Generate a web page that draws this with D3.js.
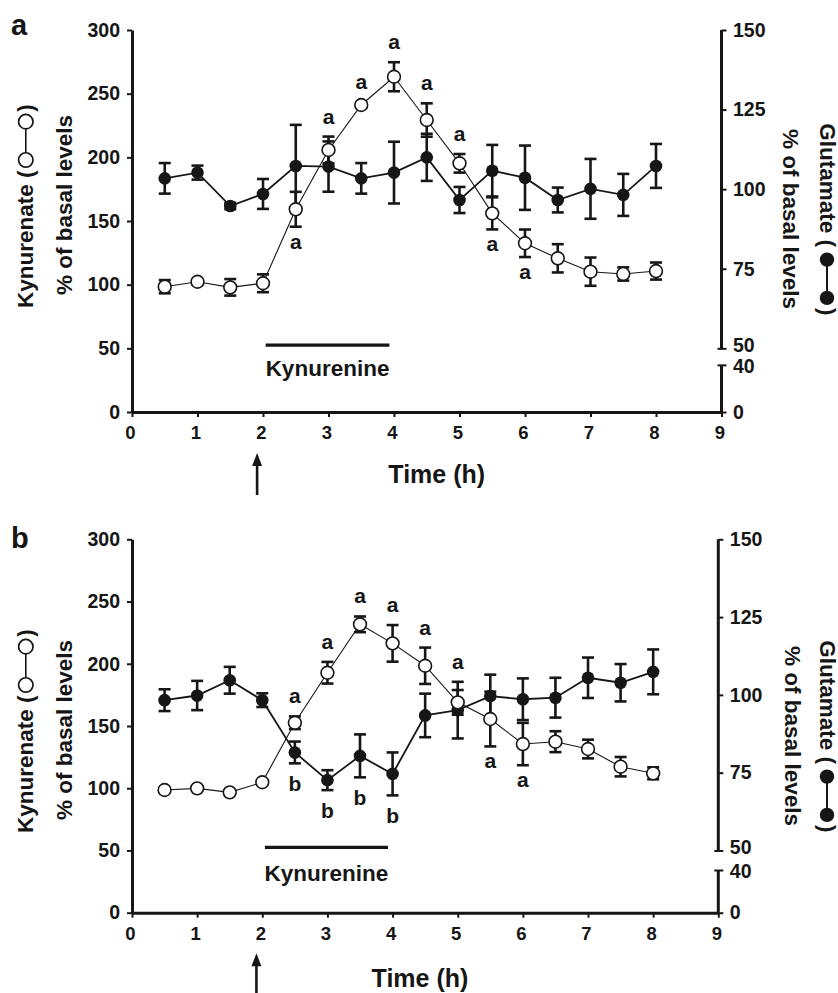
<!DOCTYPE html>
<html><head><meta charset="utf-8">
<script src="https://cdn.jsdelivr.net/npm/d3@7/dist/d3.min.js"></script>
<style>
body{margin:0;background:#fff}
svg{display:block}
text{font-family:"Liberation Sans",Arial,Helvetica,sans-serif;font-weight:bold;fill:#161616}
</style>
</head><body>
<svg id="c" width="838" height="993"></svg>
<script>
// ---------- data ----------
const times = [0.5,1,1.5,2,2.5,3,3.5,4,4.5,5,5.5,6,6.5,7,7.5,8];

// panel a
const kynA    = [98.4,102.3,97.9,101.1,159.2,205.8,241.1,263.3,229.3,195.3,156,132.5,120.7,110.2,108.4,110.7];
const kynAErr = [5.2,2,6.5,7,13.7,10.5,2,11.4,13.1,7.3,12.6,10.8,11.1,11.1,5.2,6.7];
const gluA    = [103.4,105.2,94.7,98.5,107.3,107.1,103.4,105.2,110.0,96.6,105.8,103.6,96.6,100.1,98.2,107.3];
const gluAErr = [4.8,2.2,1,4.7,12.9,7.9,4.8,9.7,7.4,4.1,8.1,10.1,3.9,9.4,6.6,6.9];
const sigA = [
  {t:2.5,txt:"a",side:"below"},{t:3,txt:"a",side:"above"},{t:3.5,txt:"a",side:"above"},
  {t:4,txt:"a",side:"above"},{t:4.5,txt:"a",side:"above"},{t:5,txt:"a",side:"above"},
  {t:5.5,txt:"a",side:"below"},{t:6,txt:"a",side:"below"}
];

// panel b
const kynB    = [98.6,99.9,96.7,104.8,152.6,192.8,231.7,216.4,198.4,169,155.6,135.5,137.4,131.5,117.3,112];
const kynBErr = [1.5,1.5,1.5,1.5,5.1,8.7,6.3,14.7,14.6,9.9,22,17,8.4,7.5,7.8,4.8];
const gluB    = [98.3,99.8,104.7,98.3,81.5,72.6,80.4,74.6,93.4,95.1,99.6,98.6,99.1,105.5,103.9,107.4];
const gluBErr = [3.5,4.7,4.3,2.2,3.5,3.2,6.9,6.9,7,9.1,6.9,6.7,6.4,6.5,6,7.2];
const sigB = [
  {t:2.5,txt:"a",side:"above"},{t:3,txt:"a",side:"above"},{t:3.5,txt:"a",side:"above"},
  {t:4,txt:"a",side:"above"},{t:4.5,txt:"a",side:"above"},{t:5,txt:"a",side:"above"},
  {t:5.5,txt:"a",side:"below"},{t:6,txt:"a",side:"below"},
  {t:2.5,txt:"b",side:"below"},{t:3,txt:"b",side:"below"},{t:3.5,txt:"b",side:"below"},{t:4,txt:"b",side:"below"}
];

const xTicks = [0,1,2,3,4,5,6,7,8,9];
const leftTicks = [0,50,100,150,200,250,300];
const rightTicks = [0,40,50,75,100,125,150];
const kynurenineSpan = [2.04, 3.93];   // hours
const kynurenineLevel = 52.5;          // left-axis units
const injectionTime = 1.91;            // hours
const leftTitle = "Kynurenate (";
const rightTitle = "Glutamate (";
const basalTitle = "% of basal levels";

// ---------- layout ----------
const panels = [
  {key:"a", kyn:kynA, kynErr:kynAErr, glu:gluA, gluErr:gluAErr, sig:sigA,
   x0:132, x1:721.5, yTop:30, yBot:412, r40:37, dL:0, dR:0, baseR:782.7, labelBase:35,
   timeX:436.7, timeY:483.3, kynLabelGap:30.5, arrowTip:453, arrowEnd:495},
  {key:"b", kyn:kynB, kynErr:kynBErr, glu:gluB, gluErr:gluBErr, sig:sigB,
   x0:132, x1:718.3, yTop:539.3, yBot:912.7, r40:34.3, dL:525, dR:517, baseR:784.5, labelBase:548,
   timeX:420, timeY:986.7, kynLabelGap:33.3, arrowTip:953.3, arrowEnd:993}
];

const svg = d3.select("#c");
const INK = "#161616";

panels.forEach(p => {
  const g = svg.append("g");
  const x = d3.scaleLinear().domain([0,9]).range([p.x0, p.x1]);
  const yL = d3.scaleLinear().domain([0,300]).range([p.yBot, p.yTop]);
  const yR = d3.scaleLinear().domain([0,40,50,150]).range([yL(0), yL(p.r40), yL(50), yL(300)]);

  // ----- axes -----
  const ax = g.append("g").attr("transform",`translate(0,${yL(0)})`)
    .call(d3.axisBottom(x).tickValues(xTicks).tickSize(5).tickSizeOuter(0).tickPadding(9).tickFormat(d3.format("d")));
  const al = g.append("g").attr("transform",`translate(${p.x0},0)`)
    .call(d3.axisLeft(yL).tickValues(leftTicks).tickSize(5).tickSizeOuter(0).tickPadding(7));
  const ar = g.append("g").attr("transform",`translate(${p.x1},0)`)
    .call(d3.axisRight(yR).tickValues(rightTicks).tickSize(5).tickSizeOuter(0).tickPadding(6.5));
  ar.select(".domain").remove();
  [ax,al,ar].forEach(a=>{
    a.select(".domain").attr("stroke",INK).attr("stroke-width",3);
    a.selectAll(".tick line").attr("stroke",INK).attr("stroke-width",2);
    a.selectAll(".tick text").attr("fill",INK).style("font-size","19.5px")
      .style("font-family",'"Liberation Sans",Arial,sans-serif').style("font-weight","bold");
  });
  ax.selectAll(".tick text").style("font-size","18.5px").attr("dx",-2);
  ar.selectAll(".tick line").filter(d=>d===50||d===40).attr("x1",-4);
  ar.selectAll(".tick text").filter(d=>d===50).attr("dy","0.18em");
  ar.selectAll(".tick text").filter(d=>d===40).attr("dy","0.4em");
  // right axis broken segments
  g.append("line").attr("x1",p.x1).attr("x2",p.x1).attr("y1",yR(50)).attr("y2",yR(150))
    .attr("stroke",INK).attr("stroke-width",3);
  g.append("line").attr("x1",p.x1).attr("x2",p.x1).attr("y1",yR(0)).attr("y2",yR(40))
    .attr("stroke",INK).attr("stroke-width",3);

  // ----- series -----
  const idx = d3.range(times.length);
  const kynLine = d3.line().x(i=>x(times[i])).y(i=>yL(p.kyn[i]));
  const gluLine = d3.line().x(i=>x(times[i])).y(i=>yR(p.glu[i]));
  g.append("path").attr("d",kynLine(idx)).attr("fill","none").attr("stroke",INK).attr("stroke-width",1.1);
  g.append("path").attr("d",gluLine(idx)).attr("fill","none").attr("stroke",INK).attr("stroke-width",1.8);

  function errBars(vals, errs, scale){
    const eg = g.append("g").attr("stroke",INK).attr("stroke-width",2.6);
    idx.forEach(i=>{
      const cx = x(times[i]), y1 = scale(vals[i]+errs[i]), y2 = scale(vals[i]-errs[i]);
      eg.append("line").attr("x1",cx).attr("x2",cx).attr("y1",y1).attr("y2",y2);
      eg.append("line").attr("x1",cx-6).attr("x2",cx+6).attr("y1",y1).attr("y2",y1);
      eg.append("line").attr("x1",cx-6).attr("x2",cx+6).attr("y1",y2).attr("y2",y2);
    });
  }
  errBars(p.glu, p.gluErr, yR);
  errBars(p.kyn, p.kynErr, yL);

  g.append("g").selectAll("circle").data(idx).join("circle")
    .attr("cx",i=>x(times[i])).attr("cy",i=>yR(p.glu[i])).attr("r",6.3).attr("fill",INK);
  g.append("g").selectAll("circle").data(idx).join("circle")
    .attr("cx",i=>x(times[i])).attr("cy",i=>yL(p.kyn[i])).attr("r",6.4)
    .attr("fill","#fff").attr("stroke",INK).attr("stroke-width",1.6);

  // ----- significance letters -----
  p.sig.forEach(s=>{
    const i = times.indexOf(s.t);
    const top = Math.min(yL(p.kyn[i]+p.kynErr[i]), yR(p.glu[i]+p.gluErr[i]));
    const bot = Math.max(yL(p.kyn[i]-p.kynErr[i]), yR(p.glu[i]-p.gluErr[i]));
    const base = s.side==="above" ? top-13 : bot + (s.txt==="b" ? 28 : 22);
    g.append("text").attr("x",x(s.t)).attr("y",base).attr("text-anchor","middle")
      .style("font-size","21px").text(s.txt);
  });

  // ----- kynurenine bar -----
  const ky = yL(kynurenineLevel);
  g.append("line").attr("x1",x(kynurenineSpan[0])).attr("x2",x(kynurenineSpan[1]))
    .attr("y1",ky).attr("y2",ky).attr("stroke",INK).attr("stroke-width",3.2);
  g.append("text").attr("x",(x(kynurenineSpan[0])+x(kynurenineSpan[1]))/2).attr("y",ky+p.kynLabelGap)
    .attr("text-anchor","middle").style("font-size","22.5px").text("Kynurenine");

  // ----- injection arrow -----
  const axx = x(injectionTime);
  g.append("line").attr("x1",axx).attr("x2",axx).attr("y1",p.arrowTip+10).attr("y2",p.arrowEnd)
    .attr("stroke",INK).attr("stroke-width",2.6);
  g.append("path").attr("d",`M${axx},${p.arrowTip} L${axx-5},${p.arrowTip+13} L${axx+5},${p.arrowTip+13} Z`)
    .attr("fill",INK);

  // ----- x title -----
  g.append("text").attr("x",p.timeX).attr("y",p.timeY).attr("text-anchor","middle")
    .style("font-size","25px").text("Time (h)");

  // ----- panel letter -----
  g.append("text").attr("x",11).attr("y",p.labelBase).style("font-size","29px").text(p.key);

  // ----- left titles -----
  const lt = g.append("g").attr("transform",`translate(33.3,${308+p.dL}) rotate(-90)`);
  const t1 = lt.append("text").attr("x",0).attr("y",0).style("font-size","22.5px").text(leftTitle);
  const L1 = t1.node().getComputedTextLength();
  const c1 = L1+10.5, c2 = c1+38.3, cy = -7.5;
  lt.append("line").attr("x1",c1).attr("x2",c2).attr("y1",cy).attr("y2",cy).attr("stroke",INK).attr("stroke-width",1.6);
  [c1,c2].forEach(c=>lt.append("circle").attr("cx",c).attr("cy",cy).attr("r",7.2)
    .attr("fill","#fff").attr("stroke",INK).attr("stroke-width",1.7));
  lt.append("text").attr("x",c2+10).attr("y",0).style("font-size","22.5px").text(")");
  g.append("text").attr("transform",`translate(71.7,${205+p.dL}) rotate(-90)`)
    .attr("text-anchor","middle").style("font-size","22.5px").text(basalTitle);

  // ----- right titles -----
  const rt = g.append("g").attr("transform",`translate(819.5,${123.3+p.dR}) rotate(90)`);
  const t2 = rt.append("text").attr("x",0).attr("y",0).style("font-size","22.5px").text(rightTitle);
  const L2 = t2.node().getComputedTextLength();
  const d1 = L2+12.5, d2 = d1+38.3;
  rt.append("line").attr("x1",d1).attr("x2",d2).attr("y1",cy).attr("y2",cy).attr("stroke",INK).attr("stroke-width",2);
  [d1,d2].forEach(c=>rt.append("circle").attr("cx",c).attr("cy",cy).attr("r",7.2).attr("fill",INK));
  rt.append("text").attr("x",d2+10).attr("y",0).style("font-size","22.5px").text(")");
  g.append("text").attr("transform",`translate(${p.baseR},${219+p.dR}) rotate(90)`)
    .attr("text-anchor","middle").style("font-size","22.5px").text(basalTitle);
});
</script>
</body></html>
